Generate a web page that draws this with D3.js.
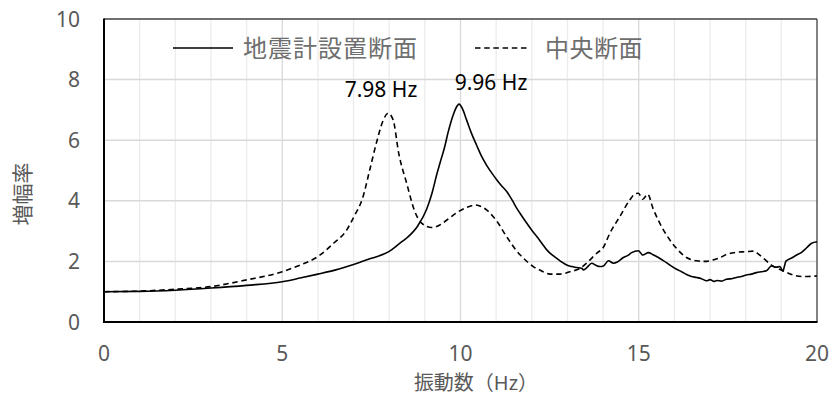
<!DOCTYPE html>
<html>
<head>
<meta charset="utf-8">
<script src="https://cdn.jsdelivr.net/npm/d3@7"></script>
<style>
  body { margin: 0; background: #fff; }
  svg { display: block; font-family: "Noto Sans", "Noto Sans CJK JP", sans-serif; }
  .jp { font-family: "Noto Sans CJK JP", "Noto Sans", sans-serif; }
</style>
</head>
<body>
<div id="chart"></div>
<script>
// 地震計設置断面 (solid)
let sensorFreq = [0, 1, 2, 3, 4, 5, 5.5, 6, 6.5, 7, 7.5, 8, 8.3, 8.5, 8.8, 9.05, 9.2, 9.33, 9.45, 9.55, 9.65, 9.8, 9.9, 9.96,
    10.05, 10.17, 10.3, 10.45, 10.6, 10.73, 10.9, 11.02, 11.15, 11.3, 11.45, 11.58, 11.72, 11.86, 12, 12.14, 12.28, 12.42,
    12.56, 12.7, 12.84, 12.98, 13.12, 13.26, 13.4, 13.45, 13.55, 13.68, 13.8, 13.91, 14.01, 14.15, 14.29, 14.4, 14.57,
    14.7, 14.8, 14.99, 15.11, 15.27, 15.4, 15.55, 15.7, 15.87, 16.06, 16.2, 16.34, 16.48, 16.62, 16.76, 16.9, 17, 17.1,
    17.2, 17.32, 17.46, 17.6, 17.74, 17.88, 18.02, 18.16, 18.3, 18.44, 18.58, 18.72, 18.85, 18.96, 19.04, 19.13, 19.3,
    19.43, 19.57, 19.71, 19.85, 20];
let sensorAmp = [1.00, 1.01, 1.05, 1.12, 1.21, 1.33, 1.45, 1.58, 1.72, 1.90, 2.10, 2.33, 2.60, 2.78, 3.17, 3.72, 4.25, 4.85,
    5.35, 5.75, 6.25, 6.85, 7.12, 7.19, 7.05, 6.67, 6.25, 5.84, 5.45, 5.18, 4.88, 4.69, 4.50, 4.30, 4.02, 3.75, 3.50, 3.26,
    3.03, 2.82, 2.60, 2.38, 2.22, 2.10, 1.98, 1.88, 1.83, 1.80, 1.77, 1.72, 1.80, 1.94, 1.87, 1.83, 1.85, 2.02, 1.94, 1.98,
    2.13, 2.20, 2.29, 2.35, 2.21, 2.29, 2.22, 2.13, 2.02, 1.88, 1.74, 1.66, 1.57, 1.50, 1.47, 1.43, 1.36, 1.40, 1.34, 1.37,
    1.35, 1.41, 1.43, 1.47, 1.50, 1.55, 1.58, 1.63, 1.66, 1.69, 1.85, 1.81, 1.83, 1.68, 2.01, 2.12, 2.21, 2.30, 2.45, 2.60,
    2.65];

// 中央断面 (dashed)
let centerFreq = [0, 1, 2, 3, 4, 5, 5.5, 6, 6.44, 6.81, 7, 7.27, 7.46, 7.65, 7.83, 7.97, 8.11, 8.27, 8.49, 8.72, 8.91, 9.19,
    9.42, 9.6, 9.8, 10.17, 10.42, 10.6, 10.73, 10.9, 11.06, 11.22, 11.39, 11.55, 11.72, 11.88, 12.04, 12.25, 12.51, 12.79,
    13.07, 13.35, 13.58, 13.82, 14, 14.19, 14.47, 14.75, 14.89, 14.99, 15.11, 15.25, 15.4, 15.59, 15.78, 16.06, 16.34,
    16.62, 16.9, 17.09, 17.28, 17.46, 17.74, 18, 18.21, 18.35, 18.5, 18.72, 19.05, 19.33, 19.61, 20];
let centerAmp = [1.00, 1.02, 1.08, 1.17, 1.39, 1.66, 1.88, 2.16, 2.60, 3.04, 3.45, 4.15, 5.05, 5.95, 6.65, 6.89, 6.67, 5.55,
    4.58, 3.64, 3.26, 3.12, 3.20, 3.35, 3.53, 3.78, 3.86, 3.80, 3.70, 3.50, 3.26, 2.95, 2.65, 2.38, 2.16, 1.98, 1.83, 1.70,
    1.58, 1.58, 1.66, 1.77, 1.99, 2.27, 2.45, 2.93, 3.48, 4.03, 4.22, 4.25, 4.05, 4.22, 3.75, 3.26, 2.87, 2.43, 2.13, 2.02,
    2.00, 2.05, 2.12, 2.23, 2.30, 2.32, 2.34, 2.25, 2.10, 1.88, 1.69, 1.55, 1.50, 1.52];

let xTicks = [0, 5, 10, 15, 20];
let yTicks = [0, 2, 4, 6, 8, 10];
let seriesNames = ['地震計設置断面', '中央断面'];
let peakLabels = ['7.98 Hz', '9.96 Hz'];

let width = 832, height = 408;
let plotL = 104, plotR = 817, plotT = 19, plotB = 322;

let x = d3.scaleLinear().domain([0, 20]).range([plotL, plotR]);
let y = d3.scaleLinear().domain([0, 10]).range([plotB, plotT]);

let svg = d3.select('#chart').append('svg')
    .attr('width', width)
    .attr('height', height);

// grid
svg.append('g')
    .selectAll('line')
    .data(d3.range(1, 20))
    .enter()
    .append('line')
    .attr('x1', d => x(d))
    .attr('x2', d => x(d))
    .attr('y1', plotT)
    .attr('y2', plotB)
    .attr('stroke', d => d % 5 === 0 ? '#d9d9d9' : '#ececec')
    .attr('stroke-width', 1.3);

svg.append('g')
    .selectAll('line')
    .data([2, 4, 6, 8])
    .enter()
    .append('line')
    .attr('x1', plotL)
    .attr('x2', plotR)
    .attr('y1', d => y(d))
    .attr('y2', d => y(d))
    .attr('stroke', '#d9d9d9')
    .attr('stroke-width', 1.5);

// frame
svg.append('line').attr('x1', plotL).attr('x2', plotR).attr('y1', plotT).attr('y2', plotT)
    .attr('stroke', '#404040').attr('stroke-width', 1.3);
svg.append('line').attr('x1', plotR).attr('x2', plotR).attr('y1', plotT).attr('y2', plotB)
    .attr('stroke', '#404040').attr('stroke-width', 1.3);

// curves
let line = d3.line()
    .x(d => x(d[0]))
    .y(d => y(d[1]))
    .curve(d3.curveMonotoneX);

svg.append('path')
    .datum(d3.zip(centerFreq, centerAmp))
    .attr('d', line)
    .attr('fill', 'none')
    .attr('stroke', '#000')
    .attr('stroke-width', 1.6)
    .attr('stroke-dasharray', '5.5,3.7');

svg.append('path')
    .datum(d3.zip(sensorFreq, sensorAmp))
    .attr('d', line)
    .attr('fill', 'none')
    .attr('stroke', '#000')
    .attr('stroke-width', 1.6);

// axes lines (thick)
svg.append('line').attr('x1', plotL).attr('x2', plotL).attr('y1', plotT - 0.5).attr('y2', plotB + 1)
    .attr('stroke', '#000').attr('stroke-width', 2);
svg.append('line').attr('x1', plotL - 1).attr('x2', plotR + 0.5).attr('y1', plotB).attr('y2', plotB)
    .attr('stroke', '#000').attr('stroke-width', 2.2);

// tick labels
svg.append('g')
    .selectAll('text')
    .data(yTicks)
    .enter()
    .append('text')
    .text(d => d)
    .attr('x', 80)
    .attr('y', d => y(d) + 7.5)
    .attr('text-anchor', 'end')
    .attr('fill', '#595959')
    .style('font-size', '21px');

svg.append('g')
    .selectAll('text')
    .data(xTicks)
    .enter()
    .append('text')
    .text(d => d)
    .attr('x', d => x(d))
    .attr('y', 360.5)
    .attr('text-anchor', 'middle')
    .attr('fill', '#595959')
    .style('font-size', '21px');

// axis titles
svg.append('text')
    .text('振動数（Hz）')
    .attr('x', 476)
    .attr('y', 389.5)
    .attr('text-anchor', 'middle')
    .attr('fill', '#595959')
    .style('font-size', '20px');

svg.append('text')
    .attr('class', 'jp')
    .text('増幅率')
    .attr('transform', 'translate(30,194) rotate(-90)')
    .attr('text-anchor', 'middle')
    .attr('fill', '#595959')
    .style('font-size', '21px');

// legend
let legend = svg.append('g').attr('id', 'legend').attr('class', 'jp');
legend.append('line').attr('x1', 173).attr('x2', 233).attr('y1', 48).attr('y2', 48)
    .attr('stroke', '#000').attr('stroke-width', 1.6);
legend.append('text').text(seriesNames[0])
    .attr('x', 243).attr('y', 57)
    .attr('fill', '#6e6e6e')
    .style('font-size', '24px')
    .style('letter-spacing', '1px');
legend.append('line').attr('x1', 475).attr('x2', 530).attr('y1', 48).attr('y2', 48)
    .attr('stroke', '#000').attr('stroke-width', 1.6).attr('stroke-dasharray', '5.5,3.7');
legend.append('text').text(seriesNames[1])
    .attr('x', 545).attr('y', 57)
    .attr('fill', '#6e6e6e')
    .style('font-size', '24px')
    .style('letter-spacing', '0.5px');

// peak labels
svg.append('text').text(peakLabels[0])
    .attr('x', 381).attr('y', 97)
    .attr('text-anchor', 'middle')
    .attr('fill', '#000')
    .style('font-size', '21px');
svg.append('text').text(peakLabels[1])
    .attr('x', 491).attr('y', 90)
    .attr('text-anchor', 'middle')
    .attr('fill', '#000')
    .style('font-size', '21px');
</script>
</body>
</html>
